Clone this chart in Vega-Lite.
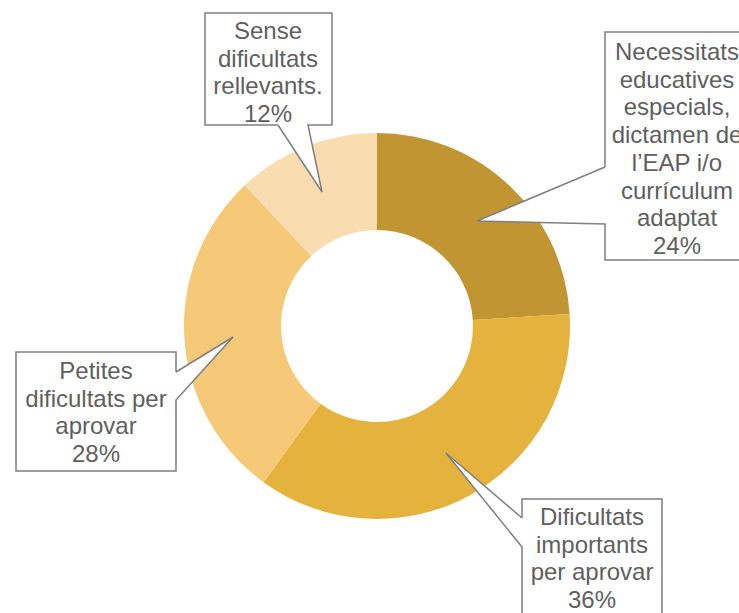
{
  "$schema": "https://vega.github.io/schema/vega-lite/v6.json",
  "width": 739,
  "height": 613,
  "autosize": "none",
  "padding": 0,
  "background": "white",
  "config": {"view": {"stroke": null}},
  "datasets": {
    "slices": [
      {"category": "Necessitats educatives especials", "value": 24, "ord": 1},
      {"category": "Dificultats importants per aprovar", "value": 36, "ord": 2},
      {"category": "Petites dificultats per aprovar", "value": 28, "ord": 3},
      {"category": "Sense dificultats rellevants", "value": 12, "ord": 4}
    ],
    "outlines": [
      {"callout": "Sense", "i": 1, "x": -99, "y": 201},
      {"callout": "Sense", "i": 2, "x": -55, "y": 134},
      {"callout": "Sense", "i": 3, "x": -69, "y": 201},
      {"callout": "Sense", "i": 4, "x": -45, "y": 201},
      {"callout": "Sense", "i": 5, "x": -45, "y": 313},
      {"callout": "Sense", "i": 6, "x": -172, "y": 313},
      {"callout": "Sense", "i": 7, "x": -172, "y": 201},
      {"callout": "Sense", "i": 8, "x": -99, "y": 201},
      {"callout": "Necessitats", "i": 1, "x": 228, "y": 159},
      {"callout": "Necessitats", "i": 2, "x": 100, "y": 105},
      {"callout": "Necessitats", "i": 3, "x": 228, "y": 102},
      {"callout": "Necessitats", "i": 4, "x": 228, "y": 66},
      {"callout": "Necessitats", "i": 5, "x": 373, "y": 66},
      {"callout": "Necessitats", "i": 6, "x": 373, "y": 294},
      {"callout": "Necessitats", "i": 7, "x": 228, "y": 294},
      {"callout": "Necessitats", "i": 8, "x": 228, "y": 159},
      {"callout": "Petites", "i": 1, "x": -201, "y": -46},
      {"callout": "Petites", "i": 2, "x": -144, "y": -11},
      {"callout": "Petites", "i": 3, "x": -201, "y": -74},
      {"callout": "Petites", "i": 4, "x": -201, "y": -145},
      {"callout": "Petites", "i": 5, "x": -361, "y": -145},
      {"callout": "Petites", "i": 6, "x": -361, "y": -26},
      {"callout": "Petites", "i": 7, "x": -201, "y": -26},
      {"callout": "Petites", "i": 8, "x": -201, "y": -46},
      {"callout": "Dificultats", "i": 1, "x": 145, "y": -192},
      {"callout": "Dificultats", "i": 2, "x": 69, "y": -127},
      {"callout": "Dificultats", "i": 3, "x": 145, "y": -221},
      {"callout": "Dificultats", "i": 4, "x": 145, "y": -304},
      {"callout": "Dificultats", "i": 5, "x": 285, "y": -304},
      {"callout": "Dificultats", "i": 6, "x": 285, "y": -173},
      {"callout": "Dificultats", "i": 7, "x": 145, "y": -173},
      {"callout": "Dificultats", "i": 8, "x": 145, "y": -192}
    ],
    "labels": [
      {"label": "Sense\ndificultats\nrellevants.\n12%", "x": -109, "y": 294},
      {"label": "Necessitats\neducatives\nespecials,\ndictamen de\nl’EAP i/o\ncurrículum\nadaptat\n24%", "x": 300, "y": 273},
      {"label": "Petites\ndificultats per\naprovar\n28%", "x": -281, "y": -46},
      {"label": "Dificultats\nimportants\nper aprovar\n36%", "x": 215, "y": -192}
    ]
  },
  "layer": [
    {
      "data": {"name": "slices"},
      "mark": {"type": "arc", "innerRadius": 96, "outerRadius": 193},
      "encoding": {
        "theta": {"field": "value", "type": "quantitative", "stack": true},
        "order": {"field": "ord", "type": "quantitative"},
        "color": {
          "field": "category",
          "type": "nominal",
          "scale": {
            "domain": ["Necessitats educatives especials", "Dificultats importants per aprovar", "Petites dificultats per aprovar", "Sense dificultats rellevants"],
            "range": ["#C19632", "#E4B23D", "#F5C978", "#F9DDB1"]
          },
          "legend": null
        },
        "x": {"datum": 0, "type": "quantitative", "scale": {"domain": [-377, 362], "nice": false, "zero": false}, "axis": null},
        "y": {"datum": 0, "type": "quantitative", "scale": {"domain": [-287, 326], "nice": false, "zero": false}, "axis": null}
      }
    },
    {
      "data": {"name": "outlines"},
      "mark": {"type": "line", "fill": "white", "stroke": "#7F7F7F", "strokeWidth": 1.5, "strokeJoin": "miter", "interpolate": "linear"},
      "encoding": {
        "x": {"field": "x", "type": "quantitative"},
        "y": {"field": "y", "type": "quantitative"},
        "detail": {"field": "callout", "type": "nominal"},
        "order": {"field": "i", "type": "quantitative"}
      }
    },
    {
      "data": {"name": "labels"},
      "mark": {"type": "text", "font": "Liberation Sans", "fontSize": 24, "lineHeight": 27.7, "lineBreak": "\n", "align": "center", "baseline": "middle", "color": "#5F5F5F"},
      "encoding": {
        "x": {"field": "x", "type": "quantitative"},
        "y": {"field": "y", "type": "quantitative"},
        "text": {"field": "label", "type": "nominal"}
      }
    }
  ]
}
